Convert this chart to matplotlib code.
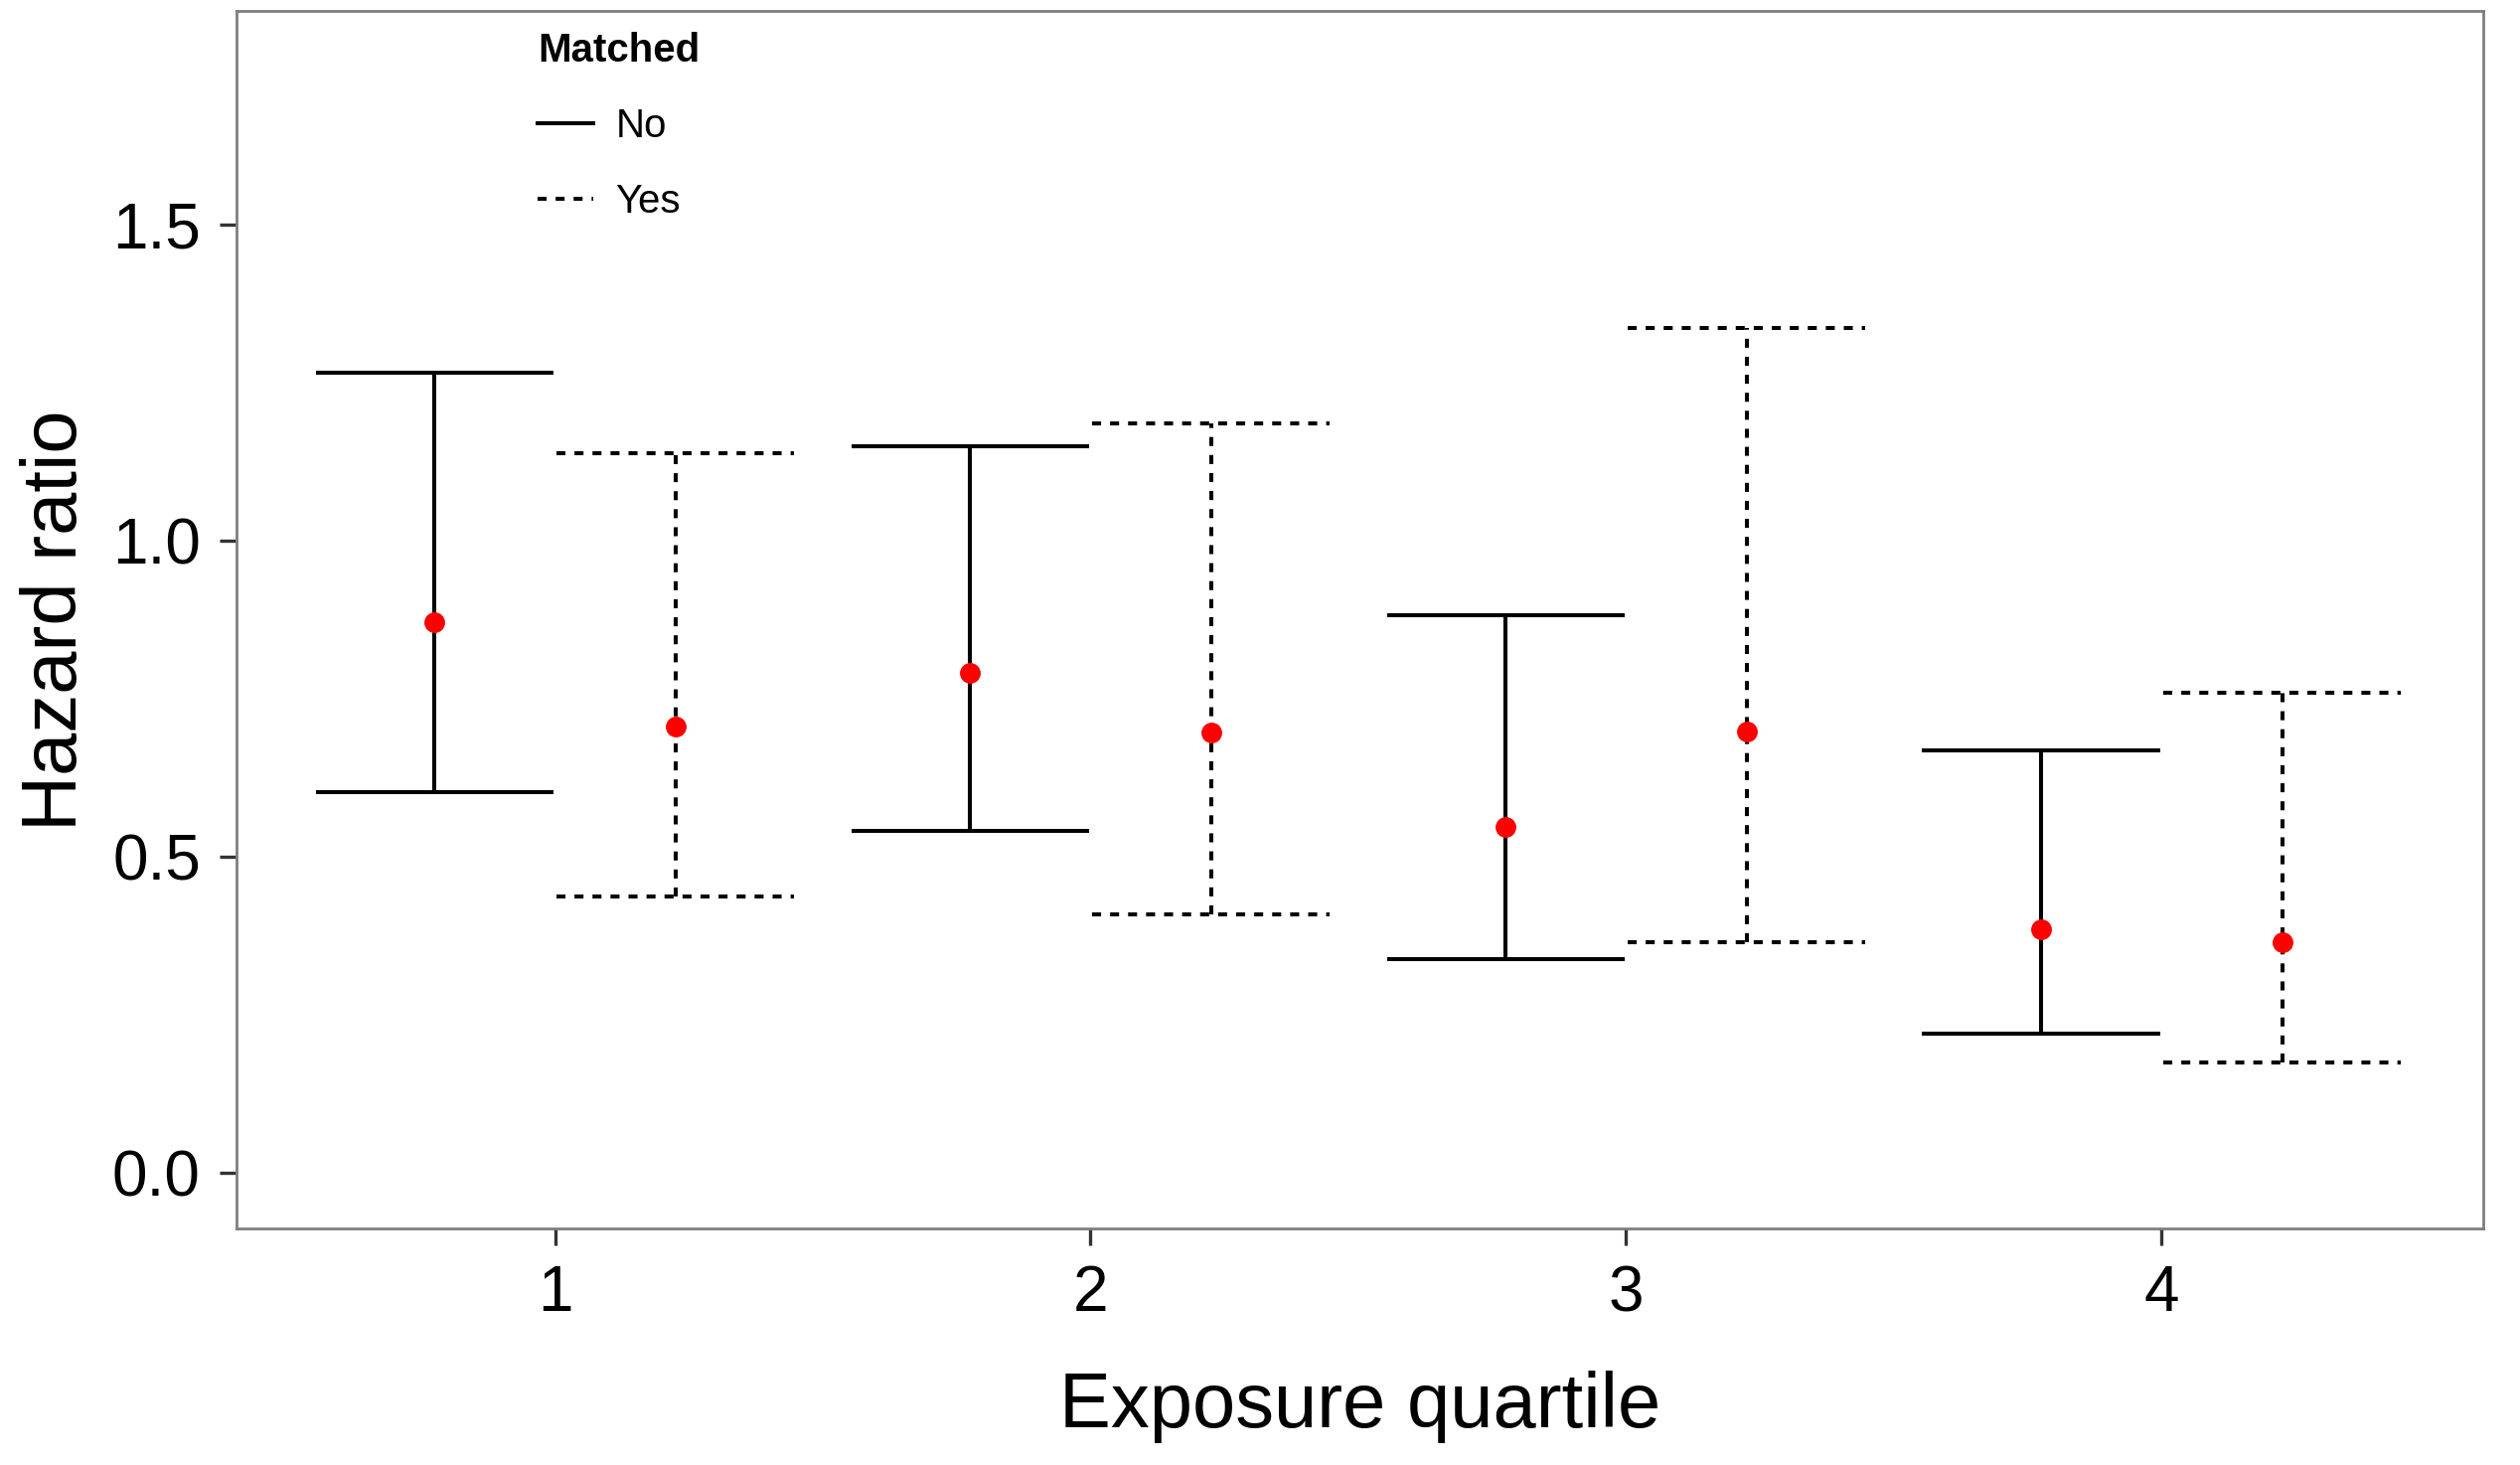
import matplotlib
matplotlib.use("Agg")
import matplotlib.pyplot as plt
from matplotlib.lines import Line2D

plt.rcParams['font.family'] = ['Liberation Sans', 'DejaVu Sans']

# data
quartiles = [1, 2, 3, 4]
hr_no = [0.872, 0.791, 0.547, 0.386]
lo_no = [0.602, 0.541, 0.338, 0.221]
hi_no = [1.266, 1.149, 0.882, 0.669]
hr_yes = [0.707, 0.697, 0.699, 0.366]
lo_yes = [0.437, 0.409, 0.366, 0.175]
hi_yes = [1.139, 1.185, 1.337, 0.760]

dodge = 0.225
half_w = 0.222
lw = 1.45
dash = (0, (2.25, 2.25))

fig = plt.figure(figsize=(12.68, 7.37), dpi=200)
ax = fig.add_axes([0.0938, 0.1614, 0.9853 - 0.0938, 0.9923 - 0.1614])

def draw_group(offset, hr, lo, hi, ls):
    for q, h, l, u in zip(quartiles, hr, lo, hi):
        x = q + offset
        ax.vlines(x, l, u, color='black', lw=lw, linestyles=ls)
        ax.hlines([l, u], x - half_w, x + half_w, color='black', lw=lw, linestyles=ls)
    xs = [q + offset for q in quartiles]
    ax.plot(xs, hr, 'o', color='red', markersize=6.5, zorder=3)

draw_group(-dodge, hr_no, lo_no, hi_no, 'solid')
draw_group(dodge, hr_yes, lo_yes, hi_yes, dash)

ax.set_xlim(0.405, 4.6)
ax.set_ylim(-0.0875, 1.8375)
ax.set_xticks(quartiles)
ax.set_yticks([0.0, 0.5, 1.0, 1.5])
ax.set_yticklabels(['0.0', '0.5', '1.0', '1.5'])
ax.tick_params(labelsize=23, length=6, width=1.2, color='#333333', pad=7)
for s in ax.spines.values():
    s.set_color('#7f7f7f')
    s.set_linewidth(1.0)

ax.set_xlabel('Exposure quartile', fontsize=28, labelpad=17)
ax.set_ylabel('Hazard ratio', fontsize=28, labelpad=7)

handles = [Line2D([], [], color='black', lw=lw, ls='solid'),
           Line2D([], [], color='black', lw=lw, ls=dash)]
leg = ax.legend(handles, ['No', 'Yes'], title='Matched', loc='upper left',
                bbox_to_anchor=(0.118, 1.013), frameon=False, fontsize=14.5,
                handlelength=1.4, handletextpad=0.55, labelspacing=0.95,
                alignment='left')
leg.get_title().set_fontweight('bold')
leg.get_title().set_fontsize(14.5)

fig.savefig('out.png', dpi=200)
